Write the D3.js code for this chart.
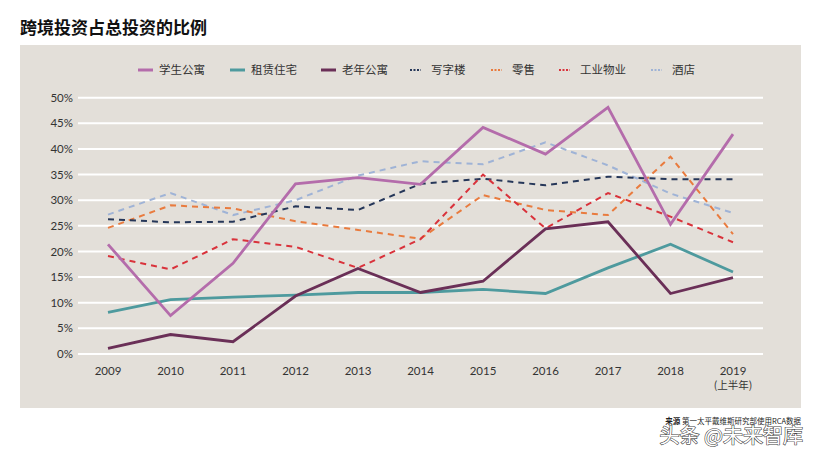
<!DOCTYPE html>
<html>
<head>
<meta charset="utf-8">
<script src="https://cdn.jsdelivr.net/npm/d3@7"></script>
<style>
  body { margin: 0; background: #fff; }
  svg { display: block; font-family: "Noto Sans CJK SC", "Noto Sans", sans-serif; }
</style>
</head>
<body>
<svg class="line-chart" width="818" height="455"></svg>
<script>
// Data
const years = ['2009', '2010', '2011', '2012', '2013', '2014', '2015', '2016', '2017', '2018', '2019'];
const yTicks = [0, 5, 10, 15, 20, 25, 30, 35, 40, 45, 50];

const student    = [21.4, 7.5, 17.7, 33.2, 34.4, 33.1, 44.2, 39.0, 48.1, 25.3, 42.9];
const rental     = [8.1, 10.6, 11.1, 11.5, 12.0, 12.0, 12.6, 11.8, 16.8, 21.4, 16.0];
const senior     = [1.1, 3.8, 2.4, 11.3, 16.7, 12.0, 14.2, 24.4, 25.8, 11.8, 14.9];
const office     = [26.3, 25.7, 25.8, 28.8, 28.1, 33.2, 34.2, 32.9, 34.6, 34.1, 34.1];
const retail     = [24.6, 29.0, 28.4, 25.9, 24.2, 22.5, 31.0, 28.1, 27.1, 38.5, 23.4];
const industrial = [19.1, 16.5, 22.4, 20.9, 16.8, 22.4, 35.0, 24.5, 31.4, 26.8, 21.8];
const hotel      = [27.2, 31.4, 27.1, 30.0, 34.8, 37.6, 37.0, 41.3, 36.8, 31.3, 27.5];

const seriesNames = ['学生公寓', '租赁住宅', '老年公寓', '写字楼', '零售', '工业物业', '酒店'];

// Series styles
const series = [
    { name: seriesNames[0], values: student,    color: '#b46cab', dashed: false },
    { name: seriesNames[1], values: rental,     color: '#4e9a9e', dashed: false },
    { name: seriesNames[2], values: senior,     color: '#6a2f57', dashed: false },
    { name: seriesNames[3], values: office,     color: '#263759', dashed: true },
    { name: seriesNames[4], values: retail,     color: '#e97b3e', dashed: true },
    { name: seriesNames[5], values: industrial, color: '#d9323b', dashed: true },
    { name: seriesNames[6], values: hotel,      color: '#9fb3d6', dashed: true }
];

const svg = d3.select('.line-chart');

// Title
svg.append('text')
    .attr('x', 20)
    .attr('y', 34)
    .attr('font-size', 17)
    .attr('font-weight', 'bold')
    .attr('fill', '#111')
    .text('跨境投资占总投资的比例');

// Background panel
svg.append('rect')
    .attr('x', 20)
    .attr('y', 45)
    .attr('width', 781)
    .attr('height', 363)
    .attr('fill', '#e3dfd9');

// Scales
const xScale = d3.scalePoint()
    .domain(years)
    .range([108, 733]);

const yScale = d3.scaleLinear()
    .domain([0, 50])
    .range([354, 97.7]);

// Grid lines
svg.append('g')
    .selectAll('line')
    .data(yTicks)
    .join('line')
    .attr('x1', 78)
    .attr('x2', 763)
    .attr('y1', d => yScale(d))
    .attr('y2', d => yScale(d))
    .attr('stroke', '#ffffff')
    .attr('stroke-width', 2);

// Y tick labels
svg.append('g')
    .selectAll('text')
    .data(yTicks)
    .join('text')
    .attr('x', 73)
    .attr('y', d => yScale(d))
    .attr('dy', '0.35em')
    .attr('text-anchor', 'end')
    .attr('font-family', 'Lato, "Open Sans", sans-serif')
    .attr('font-size', 11.5)
    .attr('fill', '#333')
    .text(d => d + '%');

// X tick labels
svg.append('g')
    .selectAll('text')
    .data(years)
    .join('text')
    .attr('x', d => xScale(d))
    .attr('y', 375)
    .attr('text-anchor', 'middle')
    .attr('font-family', 'Lato, "Open Sans", sans-serif')
    .attr('font-size', 11.5)
    .attr('fill', '#333')
    .text(d => d);

svg.append('text')
    .attr('x', xScale('2019'))
    .attr('y', 389)
    .attr('text-anchor', 'middle')
    .attr('font-size', 10.5)
    .attr('fill', '#333')
    .text('(上半年)');

// Lines
const line = d3.line()
    .x((d, i) => xScale(years[i]))
    .y(d => yScale(d));

// dashed series drawn first, solid on top
const drawOrder = [series[6], series[4], series[3], series[5], series[1], series[2], series[0]];

svg.append('g')
    .selectAll('path')
    .data(drawOrder)
    .join('path')
    .attr('fill', 'none')
    .attr('stroke', d => d.color)
    .attr('stroke-width', d => d.dashed ? 2 : 2.8)
    .attr('stroke-dasharray', d => d.dashed ? '6,5' : null)
    .attr('stroke-linejoin', 'miter')
    .attr('d', d => line(d.values));

// Legend
const legendX = [138, 230, 321, 410, 491, 559, 651];
const legend = svg.append('g')
    .selectAll('g')
    .data(series)
    .join('g')
    .attr('transform', (d, i) => `translate(${legendX[i]}, 70)`);

legend.append('line')
    .attr('x1', 0)
    .attr('x2', d => d.dashed ? 11 : 15)
    .attr('y1', 0)
    .attr('y2', 0)
    .attr('stroke', d => d.color)
    .attr('stroke-width', d => d.dashed ? 2 : 3)
    .attr('stroke-dasharray', d => d.dashed ? '2,1.5' : null);

legend.append('text')
    .attr('x', d => d.dashed ? 21 : 21)
    .attr('y', 0)
    .attr('dy', '0.35em')
    .attr('font-size', 11.5)
    .attr('fill', '#333')
    .text(d => d.name);

// Source note
svg.append('text')
    .attr('x', 801)
    .attr('y', 424)
    .attr('text-anchor', 'end')
    .attr('font-size', 7.5)
    .attr('fill', '#222')
    .html('<tspan font-weight="bold">来源</tspan>  第一太平戴维斯研究部使用RCA数据');

// Watermark
svg.append('text')
    .attr('x', 803)
    .attr('y', 443)
    .attr('text-anchor', 'end')
    .attr('font-size', 20)
    .attr('fill', '#fff')
    .attr('stroke', '#444')
    .attr('stroke-width', 1.2)
    .attr('paint-order', 'stroke')
    .text('头条 @未来智库');
</script>
</body>
</html>
